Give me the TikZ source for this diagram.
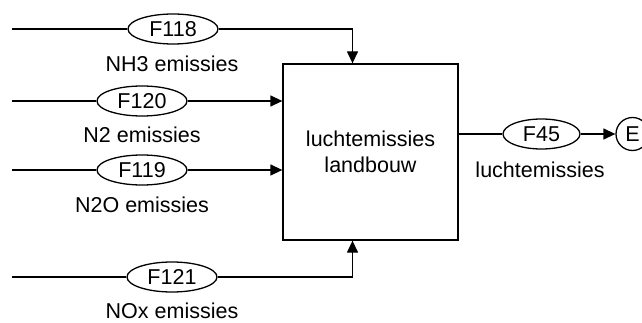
\documentclass[tikz,border=0pt]{standalone}
\usepackage{fontspec}
\setmainfont{Liberation Sans}
\usetikzlibrary{arrows.meta,shapes.geometric}
\begin{document}
\begin{tikzpicture}[x=1pt,y=-1pt,
  every node/.style={font=\fontsize{21.5}{26}\selectfont, text=black},
  flow/.style={draw, ellipse, line width=1.3pt, inner sep=0pt, minimum width=90pt, minimum height=30pt},
  proc/.style={draw, line width=1.3pt, minimum width=175pt, minimum height=176pt, align=center},
  ext/.style={draw, circle, line width=1.3pt, inner sep=0pt, minimum size=33pt},
  lbl/.style={inner sep=0pt},
  conn/.style={line width=1.3pt},
  arr/.style={line width=1.3pt, -{Triangle[length=12pt,width=11pt]}}]
\useasboundingbox (0,0) rectangle (642,323);
\node[proc] (box) at (370.5,152) {luchtemissies\\landbouw};
\node[flow] (f118) at (173,29) {F118};
\node[flow] (f120) at (142,101) {F120};
\node[flow] (f119) at (142,170) {F119};
\node[flow] (f121) at (172,277) {F121};
\node[flow, minimum width=77pt] (f45) at (541.5,134) {F45};
\node[ext] (e) at (632.5,134) {E};
\node[lbl] (l118) at (172,64) {NH3 emissies};
\node[lbl] (l120) at (142,135) {N2 emissies};
\node[lbl] (l119) at (142,205) {N2O emissies};
\node[lbl] (l121) at (172,311) {NOx emissies};
\node[lbl] (l45) at (540,170) {luchtemissies};
\coordinate (s118) at (12,29);
\coordinate (s120) at (12,101);
\coordinate (s119) at (12,170);
\coordinate (s121) at (12,277);
\coordinate (t118) at (352.5,64);
\coordinate (t121) at (352.5,240);
\draw[conn] (s118) -- (f118);
\draw[conn] (s120) -- (f120);
\draw[conn] (s119) -- (f119);
\draw[conn] (s121) -- (f121);
\draw[arr] (f118) -| (box.north -| t118);
\draw[arr] (f121) -| (box.south -| t121);
\draw[arr] (f120) -- (box.west |- f120);
\draw[arr] (f119) -- (box.west |- f119);
\draw[conn] (box.east |- f45) -- (f45);
\draw[arr] (f45) -- (e);
\end{tikzpicture}
\end{document}
